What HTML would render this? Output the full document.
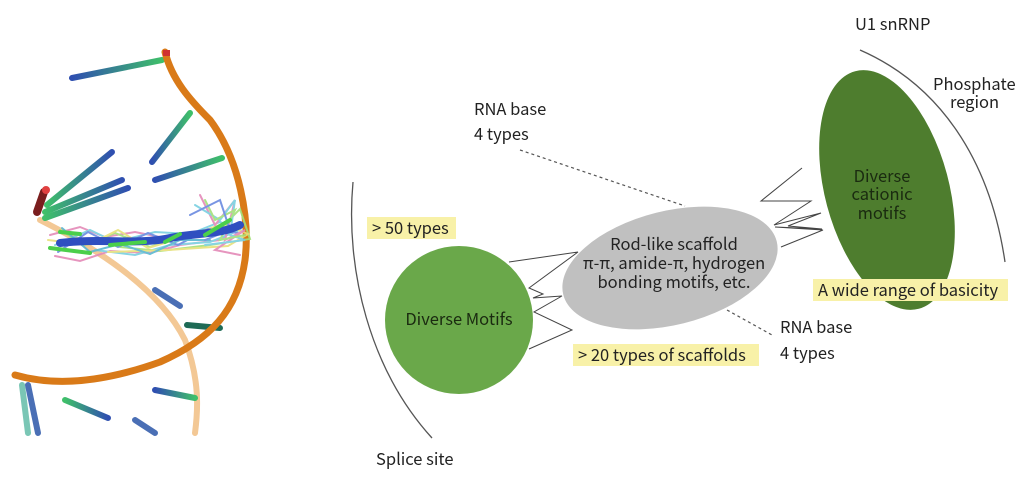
<!DOCTYPE html>
<html><head><meta charset="utf-8"><style>
html,body{margin:0;padding:0;background:#fff;width:1024px;height:478px;overflow:hidden}
svg{display:block}
text{font-family:"Noto Sans CJK JP","Liberation Sans",sans-serif;fill:#222;font-size:16.5px}
</style></head><body>
<svg width="1024" height="478" viewBox="0 0 1024 478">
<defs>
<linearGradient id="bg" x1="0" x2="1"><stop offset="0" stop-color="#2f4fb0"/><stop offset="1" stop-color="#3fbf6a"/></linearGradient>
<linearGradient id="bg2" x1="1" x2="0"><stop offset="0" stop-color="#2f4fb0"/><stop offset="1" stop-color="#3fbf6a"/></linearGradient>
</defs>
<g stroke-linecap="round" fill="none">
<path d="M40,220 C100,250 160,290 185,340 C200,380 198,410 195,433" stroke="#f3c895" stroke-width="6"/>
<g stroke-width="6">
<line x1="72" y1="78" x2="162" y2="60" stroke="url(#bg)"/>
<line x1="152" y1="162" x2="190" y2="113" stroke="url(#bg)"/>
<line x1="155" y1="180" x2="222" y2="158" stroke="url(#bg)"/>
<line x1="112" y1="152" x2="47" y2="205" stroke="url(#bg2)"/>
<line x1="122" y1="180" x2="45" y2="212" stroke="url(#bg2)"/>
<line x1="128" y1="188" x2="45" y2="218" stroke="url(#bg2)"/>
<line x1="173" y1="273" x2="240" y2="273" stroke="url(#bg)"/>
<line x1="155" y1="290" x2="180" y2="306" stroke="#4a6fb5"/>
<line x1="187" y1="325" x2="220" y2="328" stroke="#1e6a55"/>
<line x1="65" y1="400" x2="108" y2="418" stroke="url(#bg2)"/>
<line x1="135" y1="420" x2="155" y2="433" stroke="#4a6fb5"/>
<line x1="155" y1="390" x2="195" y2="398" stroke="url(#bg)"/>
<line x1="22" y1="385" x2="28" y2="433" stroke="#7ac6b5"/>
<line x1="28" y1="385" x2="38" y2="433" stroke="#4a6fb5"/>
</g>
<path d="M165,52 C172,80 190,100 210,120 C240,160 250,220 245,260 C238,310 210,340 160,362 C110,380 60,388 15,375" stroke="#d97a18" stroke-width="7"/>
<line x1="44" y1="192" x2="37" y2="212" stroke="#7a1e1e" stroke-width="8"/>
<circle cx="46" cy="190" r="4" fill="#e04040"/>
<rect x="163" y="50" width="7" height="6" fill="#d03030" stroke="none"/>
<g stroke-width="2" opacity="0.9">
<path d="M50,235 l30,-8 l25,10 l30,-5 l40,8 l30,-10 l35,-5 l-20,15 l-40,5 l-30,8 l-40,-2 l-30,10 l-25,-5" stroke="#e48ab8"/>
<path d="M55,245 l35,-15 l25,12 l40,-10 l35,2 l30,-12 l20,8 l-30,12 l-40,3 l-35,10 l-40,-5" stroke="#7ad0e0"/>
<path d="M60,230 l25,15 l30,-12 l35,14 l30,-10 l40,-8 l20,-20 l10,30 l-40,6 l-50,6 l-40,-4" stroke="#a4e07a"/>
<path d="M48,240 l40,5 l30,-15 l30,18 l40,-12 l35,-12 l25,10 l-20,12 l-60,4 l-60,2" stroke="#e8e07a"/>
<path d="M58,252 l30,-20 l30,15 l30,-14 l30,12 l30,-16 l30,4" stroke="#6a8ae0"/>
<path d="M62,228 l28,24 l30,-8 l30,10 l30,-14 l30,0" stroke="#5ab8d0"/>
<path d="M200,195 l15,30 l20,-25 l-10,40 l20,-10 l-30,20 l25,5" stroke="#e48ab8"/>
<path d="M195,205 l25,15 l15,-20 l-5,35 l15,5 l-40,5" stroke="#7ad0e0"/>
<path d="M205,200 l10,20 l20,-10 l-15,30 l25,-5" stroke="#a4e07a"/>
<path d="M190,215 l30,-15 l10,30 l-25,10" stroke="#6a8ae0"/>
</g>
<path d="M60,243 C100,238 140,245 170,238 C200,232 220,235 240,225" stroke="#2f4fc0" stroke-width="8"/>
<path d="M50,248 l40,5 M110,245 l35,-3 M165,242 l15,-8 M205,235 l25,-15 M60,232 l20,2" stroke="#4bcf4b" stroke-width="4"/>
</g>
<path d="M353,182 C345,270 370,370 432,438" fill="none" stroke="#555" stroke-width="1.3"/>
<path d="M860,50 C940,85 990,160 1005,262" fill="none" stroke="#555" stroke-width="1.3"/>
<line x1="520" y1="150" x2="685" y2="206" stroke="#555" stroke-width="1.2" stroke-dasharray="3,3"/>
<line x1="727" y1="310" x2="772" y2="335" stroke="#555" stroke-width="1.2" stroke-dasharray="3,3"/>
<ellipse cx="670" cy="268" rx="110" ry="57" transform="rotate(-14 670 268)" fill="#c0c0c0"/>
<ellipse cx="887" cy="190" rx="62" ry="123" transform="rotate(-15 887 190)" fill="#4e7d2e"/>
<circle cx="459" cy="320" r="74" fill="#6aa84a"/>
<polyline points="509,262 578,252 529,288 543,294 533,298 562,296 534,312 572,330 529,349" fill="none" stroke="#444" stroke-width="1"/>
<polyline points="802,168 761,201 811,201 774,225 821,213 788,226 822,229 775,227 823,230 781,247" fill="none" stroke="#444" stroke-width="1"/>
<rect x="367" y="217" width="89" height="22" fill="#f8f1a8"/>
<rect x="573" y="344" width="186" height="22" fill="#f8f1a8"/>
<rect x="813" y="279" width="195" height="22" fill="#f8f1a8"/>
<text x="372" y="234">&gt; 50 types</text>
<text x="578" y="361">&gt; 20 types of scaffolds</text>
<text x="818" y="296">A wide range of basicity</text>
<text x="474" y="115">RNA base</text>
<text x="474" y="140">4 types</text>
<text x="780" y="333">RNA base</text>
<text x="780" y="359">4 types</text>
<text x="376" y="465">Splice site</text>
<text x="855" y="30">U1 snRNP</text>
<text x="933" y="90">Phosphate</text>
<text x="950" y="108">region</text>
<text x="459" y="325" text-anchor="middle" style="fill:#1a2a10">Diverse Motifs</text>
<text x="882" y="182" text-anchor="middle" style="fill:#1a2a10">Diverse</text>
<text x="882" y="200" text-anchor="middle" style="fill:#1a2a10">cationic</text>
<text x="882" y="219" text-anchor="middle" style="fill:#1a2a10">motifs</text>
<text x="674" y="250" text-anchor="middle">Rod-like scaffold</text>
<text x="674" y="269" text-anchor="middle">π-π, amide-π, hydrogen</text>
<text x="674" y="288" text-anchor="middle">bonding motifs, etc.</text>
</svg>
</body></html>
